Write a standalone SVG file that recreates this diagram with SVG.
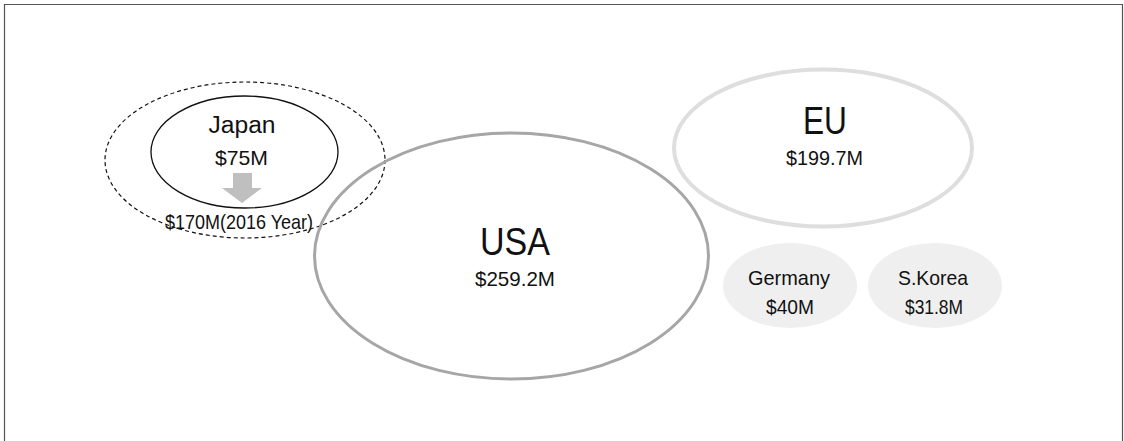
<svg xmlns="http://www.w3.org/2000/svg" width="1124" height="441" viewBox="0 0 1124 441">
  <style>
    text { font-family: "Liberation Sans", Arial, sans-serif; fill: #111; text-anchor: middle; }
    .frame { fill: none; stroke: #555; stroke-width: 1.2; }
    .big { font-size: 39px; }
    .mid { font-size: 23px; }
    .val { font-size: 21px; }
    .small { font-size: 21px; }
  </style>
  <rect width="1124" height="441" fill="#fff"/>
  <!-- page frame (open at the bottom) -->
  <path class="frame" d="M4.5,441 V4.5 H1122.5 V441"/>

  <g id="japan-2016">
    <ellipse cx="245" cy="160" rx="140" ry="78" fill="none" stroke="#111" stroke-width="1.2" stroke-dasharray="4,3"/>
  </g>

  <g id="japan">
    <ellipse cx="244.5" cy="152" rx="93.5" ry="56" fill="#fff" stroke="#111" stroke-width="1.3"/>
    <text class="mid" x="242" y="133" textLength="67" lengthAdjust="spacingAndGlyphs">Japan</text>
    <text class="val" x="241.5" y="165" textLength="53" lengthAdjust="spacingAndGlyphs">$75M</text>
  </g>

  <g id="connectors">
    <!-- growth arrow -->
    <polygon points="233,173 252,173 252,188 262,188 242,203 222,188 233,188" fill="#bfbfbf"/>
  </g>

  <g id="japan-2016-label">
    <text class="val" x="239" y="229" textLength="148" lengthAdjust="spacingAndGlyphs">$170M(2016 Year)</text>
  </g>

  <g id="usa">
    <ellipse cx="511.5" cy="256" rx="197" ry="123" fill="none" stroke="#a6a6a6" stroke-width="3"/>
    <text class="big" x="515" y="255" textLength="70" lengthAdjust="spacingAndGlyphs">USA</text>
    <text class="val" x="515" y="286" textLength="80" lengthAdjust="spacingAndGlyphs">$259.2M</text>
  </g>

  <g id="eu">
    <ellipse cx="823" cy="148" rx="149" ry="78.5" fill="none" stroke="#dedede" stroke-width="4"/>
    <text class="big" x="825" y="134" textLength="44" lengthAdjust="spacingAndGlyphs">EU</text>
    <text class="val" x="824.5" y="165" textLength="77" lengthAdjust="spacingAndGlyphs">$199.7M</text>
  </g>

  <g id="germany">
    <ellipse cx="790" cy="285.5" rx="67" ry="42.5" fill="#efefef"/>
    <text class="small" x="789" y="285" textLength="82" lengthAdjust="spacingAndGlyphs">Germany</text>
    <text class="small" x="790" y="314" textLength="48" lengthAdjust="spacingAndGlyphs">$40M</text>
  </g>

  <g id="south-korea">
    <ellipse cx="935" cy="285.5" rx="67" ry="42.5" fill="#efefef"/>
    <text class="small" x="933" y="285" textLength="70" lengthAdjust="spacingAndGlyphs">S.Korea</text>
    <text class="small" x="934" y="314" textLength="58" lengthAdjust="spacingAndGlyphs">$31.8M</text>
  </g>
</svg>
